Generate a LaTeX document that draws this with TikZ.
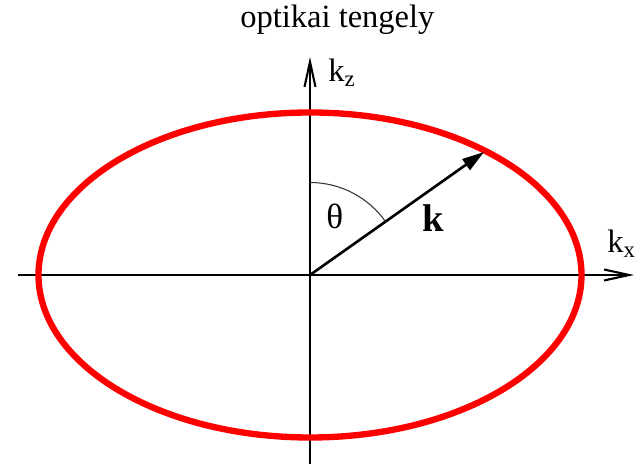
\documentclass[tikz,border=0pt]{standalone}
\usepackage{fontspec}
\setmainfont{Liberation Serif}
\usepackage{tikz}
\usetikzlibrary{arrows.meta}

\begin{document}
\begin{tikzpicture}[>={Straight Barb[length=5mm,width=2.2mm]},
        every node/.style={inner sep=0pt,anchor=base west,font=\fontsize{18.5}{22}\selectfont},
        axis/.style={line width=1.2pt,->},
        kvec/.style={line width=1.5pt,-{Triangle[length=4.4mm,width=2.6mm]}}]
        \useasboundingbox (-6.2,-3.78) rectangle (6.68,5.5);
        % axes
        \coordinate (o) at (0,0);
        \coordinate (xl) at (-5.84,0);
        \coordinate (xr) at (6.48,0);
        \coordinate (zb) at (0,-3.78);
        \coordinate (zt) at (0,4.36);
        \draw[axis] (xl) -- (xr);
        \draw[axis] (zb) -- (zt);
        \node (kx) at (5.94,0.44) {k$_\mathrm{x}$};
        \node (kz) at (0.36,3.86) {k$_\mathrm{z}$};
        \node (axislabel) at (-1.4,4.94) {optikai tengely};
        % index ellipse
        \draw[red,line width=3.6pt] (o) ellipse (5.43 and 3.25);
        % wave vector and angle
        \coordinate (kend) at (3.48,2.46);
        \draw[kvec] (o) -- (kend);
        \draw[black!80,line width=0.6pt] (0,1.85) arc[start angle=90,end angle=35.3,radius=1.85];
        \node[font=\fontsize{20}{24}\selectfont] (theta) at (0.32,0.92) {θ};
        \node[font=\fontsize{22}{26}\selectfont\bfseries] (k) at (2.24,0.86) {k};
\end{tikzpicture}
\end{document}
